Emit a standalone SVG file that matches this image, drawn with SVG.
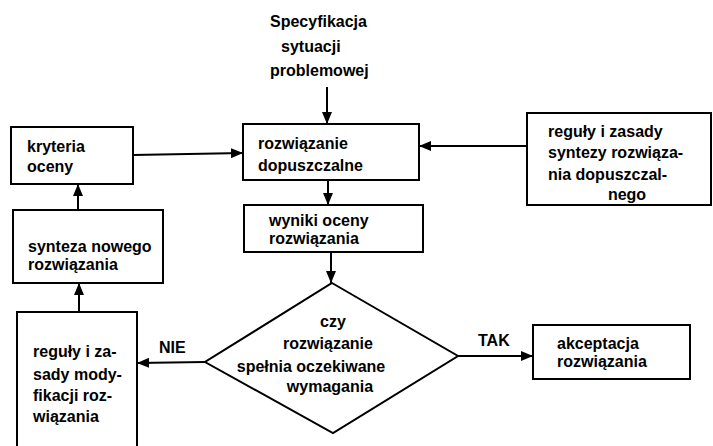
<svg xmlns="http://www.w3.org/2000/svg" width="713" height="446" viewBox="0 0 713 446">
<style>
.box{fill:#fff;stroke:#000;stroke-width:2}
.t{font-family:"Liberation Sans",Arial,sans-serif;font-weight:700;font-size:16px;fill:#000}
.c{text-anchor:middle}
.ln{stroke:#000;stroke-width:2;fill:none}
</style>
<defs>
<marker id="ah" viewBox="0 0 12 10" refX="12" refY="5" markerWidth="12" markerHeight="10" markerUnits="userSpaceOnUse" orient="auto">
<path d="M0,0 L12,5 L0,10 z" fill="#000"/>
</marker>
</defs>
<rect width="713" height="446" fill="#fff"/>
<g id="connectors">
<line class="ln" x1="327" y1="87" x2="327" y2="124" marker-end="url(#ah)"/>
<line class="ln" x1="133" y1="155" x2="243" y2="153" marker-end="url(#ah)"/>
<line class="ln" x1="527" y1="146" x2="419" y2="146" marker-end="url(#ah)"/>
<line class="ln" x1="328" y1="180" x2="328" y2="205" marker-end="url(#ah)"/>
<line class="ln" x1="331" y1="252" x2="331" y2="283" marker-end="url(#ah)"/>
<line class="ln" x1="205" y1="362" x2="137" y2="363" marker-end="url(#ah)"/>
<line class="ln" x1="458" y1="356" x2="533" y2="356" marker-end="url(#ah)"/>
<line class="ln" x1="79" y1="312" x2="79" y2="283" marker-end="url(#ah)"/>
<line class="ln" x1="78" y1="210" x2="78" y2="184" marker-end="url(#ah)"/>
</g>
<g id="spec">
<text class="t" x="270" y="27">Specyfikacja</text>
<text class="t" x="281" y="52">sytuacji</text>
<text class="t" x="270" y="76">problemowej</text>
</g>
<g id="kryteria">
<rect class="box" x="11" y="127" width="122" height="57"/>
<text class="t" x="27" y="152">kryteria</text>
<text class="t" x="27" y="172">oceny</text>
</g>
<g id="rozwiazanie">
<rect class="box" x="243" y="124" width="176" height="56"/>
<text class="t" x="258" y="149">rozwiązanie</text>
<text class="t" x="258" y="171">dopuszczalne</text>
</g>
<g id="reguly-syntezy">
<rect class="box" x="527" y="113" width="184" height="92"/>
<text class="t" x="548" y="137">reguły i zasady</text>
<text class="t" x="548" y="158">syntezy rozwiąza-</text>
<text class="t" x="548" y="180">nia dopuszczal-</text>
<text class="t c" x="627" y="200">nego</text>
</g>
<g id="wyniki">
<rect class="box" x="244" y="205" width="179" height="47"/>
<text class="t" x="269" y="226">wyniki oceny</text>
<text class="t" x="269" y="244">rozwiązania</text>
</g>
<g id="synteza">
<rect class="box" x="13" y="210" width="150" height="73"/>
<text class="t" x="28" y="252">synteza nowego</text>
<text class="t" x="28" y="270">rozwiązania</text>
</g>
<g id="decyzja">
<polygon class="box" points="332,283 458,356 333,433 205,362"/>
<text class="t c" x="333" y="327">czy</text>
<text class="t c" x="328" y="349">rozwiązanie</text>
<text class="t c" x="311" y="372">spełnia oczekiwane</text>
<text class="t c" x="330" y="392">wymagania</text>
</g>
<g id="reguly-modyfikacji">
<rect class="box" x="17" y="312" width="120" height="140"/>
<text class="t" x="33" y="357">reguły i za-</text>
<text class="t" x="33" y="380">sady mody-</text>
<text class="t" x="33" y="401">fikacji roz-</text>
<text class="t" x="33" y="422">wiązania</text>
</g>
<g id="akceptacja">
<rect class="box" x="533" y="325" width="157" height="54"/>
<text class="t" x="557" y="349">akceptacja</text>
<text class="t" x="557" y="367">rozwiązania</text>
</g>
<g id="labels">
<text class="t" x="159" y="353">NIE</text>
<text class="t" x="478" y="346">TAK</text>
</g>
</svg>
